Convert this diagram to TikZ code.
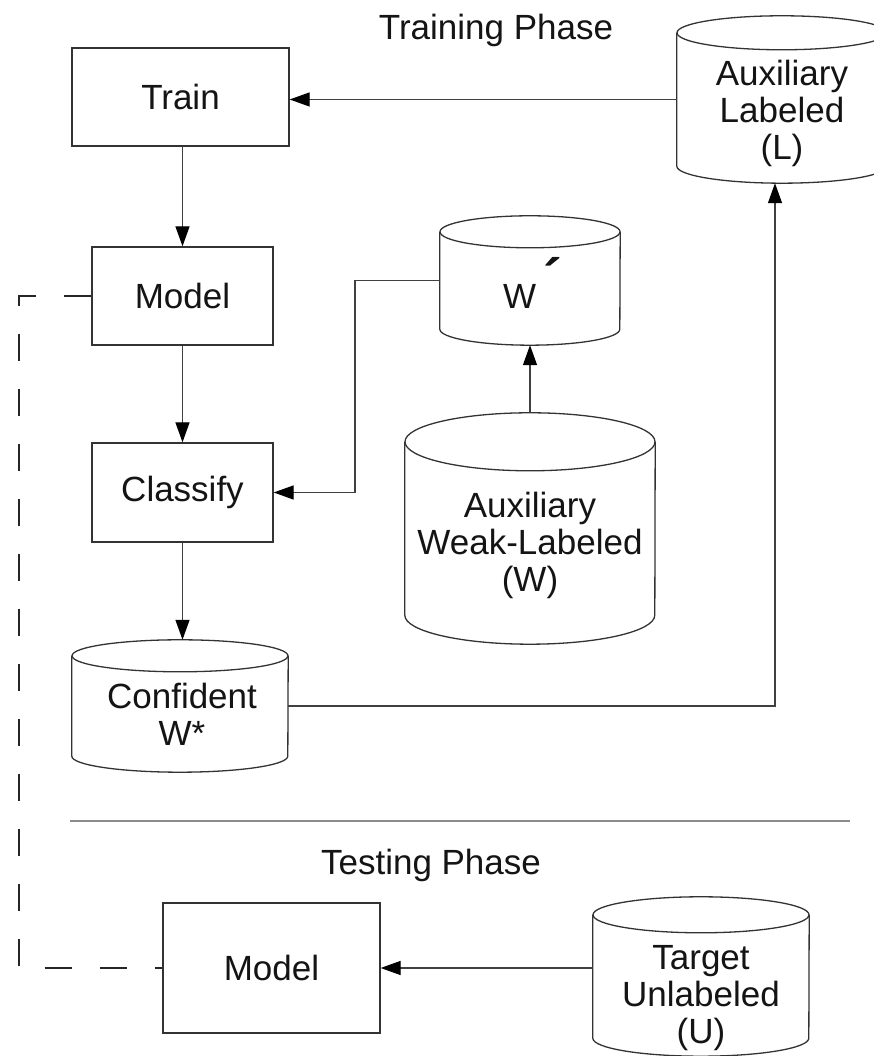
\documentclass[tikz,border=0pt]{standalone}
\usepackage{fontspec}
\setmainfont{Liberation Sans}
\usetikzlibrary{arrows.meta}

% outline of a storage cylinder drawn around an empty node
% #1 node name, #2 x radius, #3 y radius of the end ellipses (pt)
\newcommand\cylshape[3]{%
  \draw[cylline] ([yshift=-#3pt]#1.north west) -- ([yshift=#3pt]#1.south west)
     arc[start angle=180,end angle=360,x radius=#2pt,y radius=#3pt]
     -- ([yshift=-#3pt]#1.north east);
  \draw[cylline] ([yshift=-#3pt]#1.north) ellipse[x radius=#2pt,y radius=#3pt];
}

\begin{document}
\begin{tikzpicture}[x=1pt,y=1pt,
  font=\fontsize{35}{37}\selectfont,
  box/.style={draw=black!80, line width=1.3pt, inner sep=0pt, text=black!92},
  cyl/.style={draw=none, inner sep=0pt},
  cylline/.style={draw=black!80, line width=1.3pt},
  lbl/.style={align=center, inner sep=0pt, text=black!92},
  link/.style={draw=black!75, line width=1.3pt},
  arr/.style={link, -{Triangle[length=20pt,width=14pt,color=black]}},
  weaklink/.style={draw=black!85, line width=1.6pt, dash pattern=on 27pt off 28pt},
  rule/.style={draw=black!45, line width=1.3pt}]

\useasboundingbox (0,0) rectangle (874,1056);
\fill[white] (0,0) rectangle (874,1056);
\clip (0,0) rectangle (874,1056);

% phase titles and divider
\node[lbl] (trainph) at (496,1026) {Training Phase};
\node[lbl] (testph) at (431,191) {Testing Phase};
\draw[rule] (70,235) -- (850,235);

% process boxes
\node[box, minimum width=217pt, minimum height=98pt] (Train) at (180.5,959) {Train};
\node[box, minimum width=181pt, minimum height=98pt] (Model) at (182.5,760) {Model};
\node[box, minimum width=181pt, minimum height=99pt] (Classify) at (182.5,563.5) {Classify};
\node[box, minimum width=217pt, minimum height=130pt] (BModel) at (271.5,88) {Model};

% data stores
\node[cyl, minimum width=210pt, minimum height=167pt] (L) at (782,956.5) {};
\node[cyl, minimum width=180pt, minimum height=129pt] (Wp) at (530,775.5) {};
\node[cyl, minimum width=250pt, minimum height=231pt] (Weak) at (530,527.5) {};
\node[cyl, minimum width=216pt, minimum height=132pt] (Conf) at (180,350) {};
\node[cyl, minimum width=216pt, minimum height=159pt] (Tgt) at (701,79.5) {};
\cylshape{L}{105}{17}
\cylshape{Wp}{90}{16}
\cylshape{Weak}{125}{29}
\cylshape{Conf}{108}{16}
\cylshape{Tgt}{108}{18}

\node[lbl] (Ltxt) at (782,943) {Auxiliary\\Labeled\\(L)};
\node[lbl, anchor=base west] (Wptxt) at (503,747) {W\hspace{7pt}\raisebox{10pt}{\scalebox{1.6}{\bfseries ´}}};
\node[lbl] (Weaktxt) at (530,511) {Auxiliary\\Weak-Labeled\\(W)};
\node[lbl] (Conftxt) at (182,341.5) {Confident\\W*};
\node[lbl] (Tgttxt) at (701,58) {Target\\Unlabeled\\(U)};

% routing points
\coordinate (bend) at (355,563.5);
\coordinate (riser) at (775,350);
\coordinate (lane) at (19,400);

% connectors
\draw[arr] (L.west) -- (L.west -| Train.east);
\draw[arr] (Model.north |- Train.south) -- (Model.north);
\draw[arr] (Model.south) -- (Classify.north);
\draw[arr] (Classify.south) -- (Classify.south |- Conf.north);
\draw[arr] (Wp.west) -| (bend) -- (Classify.east);
\draw[arr] (Weak.north) -- (Wp.south);
\draw[arr] (Conf.east) -- (riser) -- (riser |- L.south);
\draw[arr] (BModel.east -| Tgt.west) -- (BModel.east);
\draw[weaklink] (Model.west) -- (Model.west -| lane) -- (lane |- BModel.west) -- (BModel.west);
\end{tikzpicture}
\end{document}
